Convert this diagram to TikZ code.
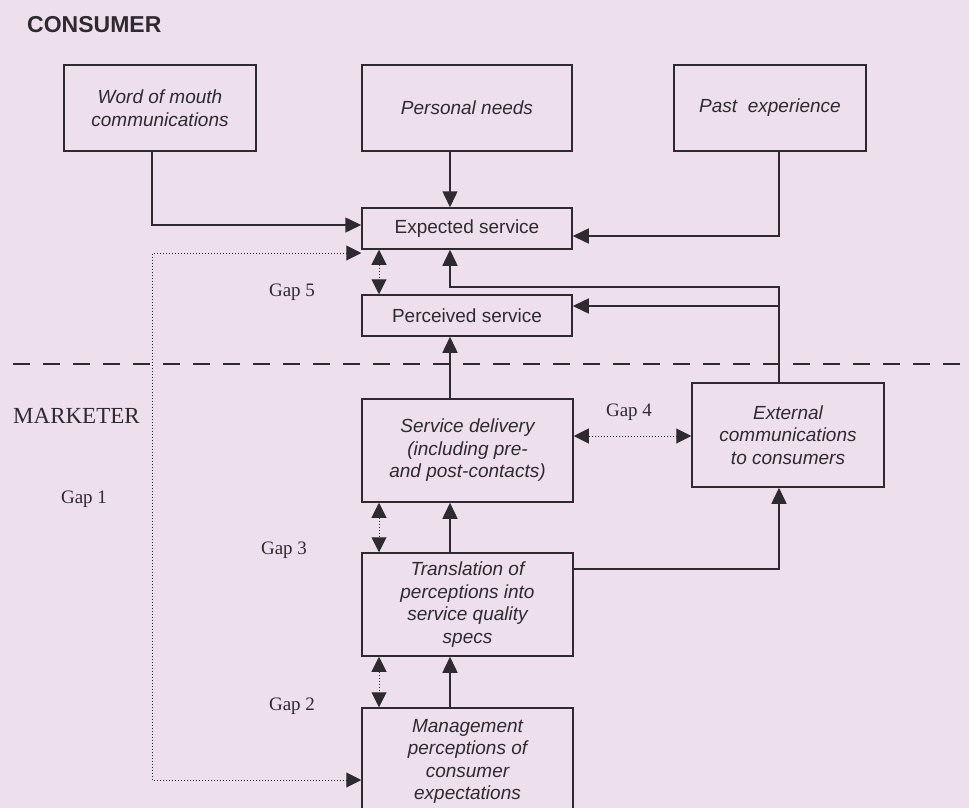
\documentclass[tikz,border=0pt]{standalone}
\usepackage{fontspec}
\setmainfont{Liberation Serif}
\setsansfont{Liberation Sans}
\usetikzlibrary{arrows.meta,calc}
\definecolor{bg}{RGB}{238,223,236}
\definecolor{ink}{RGB}{45,42,48}
\begin{document}
\begin{tikzpicture}[x=1pt,y=-1pt,
 box/.style={draw=ink, line width=1.5pt, inner sep=0pt, align=center, text=ink,
   font=\sffamily\itshape\fontsize{19}{22.5}\selectfont},
 pbox/.style={box, font=\sffamily\fontsize{19}{22.5}\selectfont},
 arr/.style={draw=ink, line width=1.5pt, -{Triangle[length=16pt,width=15pt]}},
 dotarr/.style={draw=ink, line width=1pt, dotted, {Triangle[length=15pt,width=15pt]}-{Triangle[length=15pt,width=15pt]}},
 gap/.style={font=\fontsize{19}{22}\selectfont, text=ink},
]
\useasboundingbox (0,0) rectangle (969,808);
\clip (0,0) rectangle (969,808);
\fill[bg] (0,0) rectangle (969,808);

% column helpers
\coordinate (c1) at (152,0);
\coordinate (c2) at (379,0);
\coordinate (c3) at (450,0);
\coordinate (c4) at (779,0);

% headings
\node[anchor=west, inner sep=0pt, text=ink, font=\sffamily\bfseries\fontsize{23}{26}\selectfont] (cons) at (27,25) {CONSUMER};
\node[anchor=west, inner sep=0pt, text=ink, font=\fontsize{23}{26}\selectfont] (mark) at (13,416) {MARKETER};

% boxes
\node[box, minimum width=192pt, minimum height=86pt] (wom) at (160,108) {Word of mouth\\communications};
\node[box, minimum width=210pt, minimum height=86pt] (pn) at (467,108) {Personal needs};
\node[box, minimum width=192pt, minimum height=86pt] (pe) at (770,108) {Past\ \ experience};
\node[pbox, minimum width=210pt, minimum height=41pt] (exp) at (467,228.5) {Expected service};
\node[pbox, minimum width=210pt, minimum height=41pt] (per) at (467,315.5) {Perceived service};
\node[box, minimum width=211pt, minimum height=103pt] (sd) at (467.5,450.5) {Service delivery\\(including pre-\\and post-contacts)};
\node[box, minimum width=192pt, minimum height=104pt] (ext) at (788,435) {External\\communications\\to consumers};
\node[box, minimum width=211pt, minimum height=103pt] (tr) at (467.5,604.5) {Translation of\\perceptions into\\service quality\\specs};
\node[box, minimum width=211pt, minimum height=107pt] (mg) at (467.5,761.5) {Management\\perceptions of\\consumer\\expectations};

% dashed divider
\coordinate (dl) at (13,364);
\coordinate (dr) at (969,364);
\draw[ink, line width=2.2pt, dash pattern=on 17pt off 13pt] (dl) -- (dr);

% gap labels
\node[gap] (g5) at (292,292) {Gap 5};
\node[gap] (g4) at (629,412) {Gap 4};
\node[gap] (g1) at (84,499) {Gap 1};
\node[gap] (g3) at (284,550) {Gap 3};
\node[gap] (g2) at (292,706) {Gap 2};

% solid connectors
\draw[arr] (wom.south -| c1) |- ($(exp.west)+(0,-3.5)$);
\draw[arr] (pn.south -| c3) -- (exp.north -| c3);
\draw[arr] (pe.south -| c4) |- ($(exp.east)+(0,7.5)$);
\draw[arr] (sd.north -| c3) -- (per.south -| c3);
\coordinate (j1) at (779,287);
\coordinate (j2) at (779,306);
\draw[arr] (ext.north -| c4) -- (j1) -| (exp.south -| c3);
\draw[arr] (j2) -- (j2 -| per.east);
\draw[arr] (tr.north -| c3) -- (sd.south -| c3);
\draw[arr] (mg.north -| c3) -- (tr.south -| c3);
\draw[arr] ($(tr.east)+(0,-35.5)$) -| (ext.south -| c4);

% dotted gap connectors
\coordinate (gl1) at (152,253);
\coordinate (gl2) at (152,780);
\draw[dotarr] (gl1 -| exp.west) -- (gl1) -- (gl2) -- (gl2 -| mg.west);
\draw[dotarr] (exp.south -| c2) -- (per.north -| c2);
\coordinate (g4y) at (0,436);
\draw[dotarr] (g4y -| sd.east) -- (g4y -| ext.west);
\draw[dotarr] (sd.south -| c2) -- (tr.north -| c2);
\draw[dotarr] (tr.south -| c2) -- (mg.north -| c2);
\end{tikzpicture}
\end{document}
